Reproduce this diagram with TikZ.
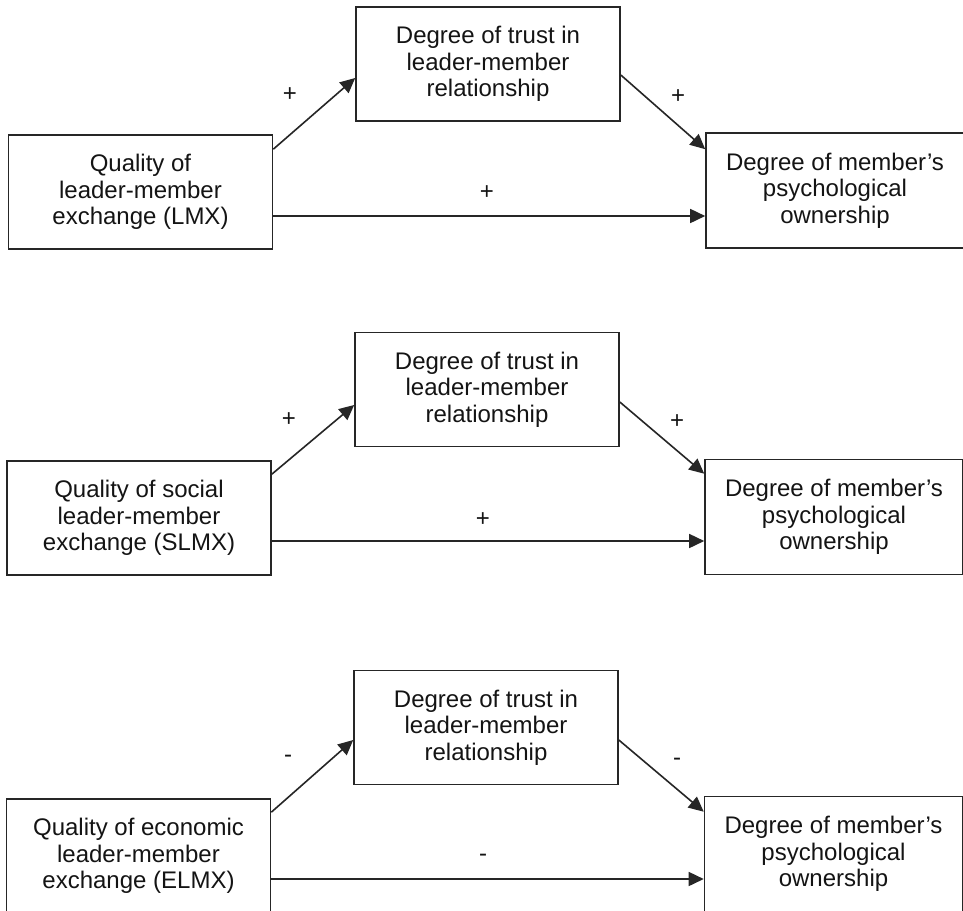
\documentclass[tikz,border=0pt]{standalone}
\usepackage{fontspec}
\setmainfont{Liberation Sans}
\usetikzlibrary{arrows.meta}
\tikzset{
  box/.style={draw=black!85, line width=1.6pt, align=center, inner sep=0pt,
              font=\fontsize{24}{26.7}\selectfont, text=black!92},
  lbox/.style={box, minimum width=264pt, minimum height=114pt},
  mbox/.style={box, minimum width=264pt, minimum height=114pt},
  rbox/.style={box, minimum width=258pt, minimum height=115pt},
  conn/.style={line width=1.6pt, draw=black!85, -{Triangle[length=15pt,width=14pt]}},
  sign/.style={font=\fontsize{24}{26}\selectfont, text=black!92, inner sep=0pt},
}
\begin{document}
\begin{tikzpicture}[x=1pt,y=-1pt]
\useasboundingbox (0,0) rectangle (963,910);
\clip (0,0) rectangle (963,910);
\fill[white] (0,0) rectangle (963,910);

% ---- model 1: LMX ----
\node[lbox] (L1) at (140.5,192)  {Quality of\\leader-member\\exchange (LMX)};
\node[mbox] (M1) at (488,64)     {Degree of trust in\\leader-member\\relationship};
\node[rbox] (R1) at (835,190.5)  {Degree of member’s\\psychological\\ownership};
\draw[conn] ([yshift=-15pt]L1.north east) -- ([yshift=-14pt]M1.west);
\draw[conn] ([yshift=-11pt]M1.east) -- ([yshift=-17pt]R1.north west);
\draw[conn] ([yshift=-24pt]L1.east) coordinate (h1) -- (h1 -| R1.west);
\node[sign] (s11) at (290,95)  {+};
\node[sign] (s12) at (678,97)  {+};
\node[sign] (s13) at (487,193) {+};

% ---- model 2: SLMX ----
\node[lbox] (L2) at (139,518)    {Quality of social\\leader-member\\exchange (SLMX)};
\node[mbox] (M2) at (487,389.5)  {Degree of trust in\\leader-member\\relationship};
\node[rbox] (R2) at (834,517)    {Degree of member’s\\psychological\\ownership};
\draw[conn] ([yshift=-14pt]L2.north east) -- ([yshift=-15.5pt]M2.west);
\draw[conn] ([yshift=-12.5pt]M2.east) -- ([yshift=-15pt]R2.north west);
\draw[conn] ([yshift=-23pt]L2.east) coordinate (h2) -- (h2 -| R2.west);
\node[sign] (s21) at (289,420) {+};
\node[sign] (s22) at (677,422) {+};
\node[sign] (s23) at (483,520) {+};

% ---- model 3: ELMX ----
\node[lbox] (L3) at (138.5,856)  {Quality of economic\\leader-member\\exchange (ELMX)};
\node[mbox] (M3) at (486,727.5)  {Degree of trust in\\leader-member\\relationship};
\node[rbox] (R3) at (833.5,854)  {Degree of member’s\\psychological\\ownership};
\draw[conn] ([yshift=-14pt]L3.north east) -- ([yshift=-12.5pt]M3.west);
\draw[conn] ([yshift=-12.5pt]M3.east) -- ([yshift=-16pt]R3.north west);
\draw[conn] ([yshift=-23pt]L3.east) coordinate (h3) -- (h3 -| R3.west);
\node[sign] (s31) at (288,759) {-};
\node[sign] (s32) at (677,762) {-};
\node[sign] (s33) at (483,858) {-};
\end{tikzpicture}
\end{document}
